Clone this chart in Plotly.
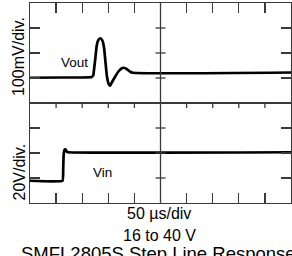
import plotly.graph_objects as go

# ---- data ----
# Vout transient (time in µs, output deviation in mV on a 100 mV/div scale)
vout_t = [0, 60, 118, 121, 123, 125.5, 128, 131, 135, 139, 142, 144.5, 147.5, 151, 153.5, 157, 163, 169, 176, 180, 185, 192, 197, 500]
vout_mv = [101, 102, 104, 110, 140, 185, 232, 252, 259, 248, 219, 165, 105, 75, 69, 83, 105, 125, 139, 141, 136, 125, 121, 122]

# Vin step (time in µs, volts on a 20 V/div scale)
vin_t = [0, 62.3, 63.6, 64.4, 66, 68, 70.3, 73, 500]
vin_v = [17.8, 17.8, 27, 38, 42.4, 43, 41.2, 40.6, 40.6]

x_range = [0, 500]          # 10 div x 50 µs
x_dtick = 50
top_range = [0, 400]        # 4 div x 100 mV
top_dtick = 100
bot_range = [0, 80]         # 4 div x 20 V
bot_dtick = 20

x_tick_vals = [50, 100, 150, 200, 300, 350, 400, 450]
top_tick_vals = [100, 200, 300]
bot_tick_vals = [20, 40, 60]
center_x = 250

FONT = "Liberation Sans, Arial, Helvetica, sans-serif"
LINE_C = "#3a3a3a"
LINE_W = 1.3

fig = go.Figure()
fig.add_trace(go.Scatter(x=vout_t, y=vout_mv, xaxis="x", yaxis="y", mode="lines",
                         line=dict(color="black", width=2.7, shape="spline", smoothing=0.5),
                         showlegend=False, hoverinfo="skip"))
fig.add_trace(go.Scatter(x=vin_t, y=vin_v, xaxis="x2", yaxis="y2", mode="lines",
                         line=dict(color="black", width=2.7, shape="spline", smoothing=0.3),
                         showlegend=False, hoverinfo="skip"))

common = dict(showgrid=False, zeroline=False, showticklabels=False, showline=True,
              linecolor=LINE_C, linewidth=LINE_W, ticks="inside", ticklen=10,
              tickcolor=LINE_C, tickwidth=LINE_W)

fig.update_layout(
    width=292, height=256,
    margin=dict(l=30, r=1, t=3, b=53),
    paper_bgcolor="white", plot_bgcolor="white",
    xaxis=dict(domain=[0, 1], anchor="y", range=x_range, side="top", tick0=0, dtick=x_dtick,
               mirror=True, **common),
    yaxis=dict(domain=[0.5, 1], anchor="x", range=top_range, tick0=0, dtick=top_dtick,
               mirror="ticks", **common),
    xaxis2=dict(domain=[0, 1], anchor="y2", range=x_range, side="bottom", tick0=0, dtick=x_dtick,
                mirror=True, matches="x", **common),
    yaxis2=dict(domain=[0, 0.5], anchor="x2", range=bot_range, tick0=0, dtick=bot_dtick,
                mirror="ticks", **common),
    font=dict(family=FONT, color="black"),
)

shapes = []
# center vertical divider
shapes.append(dict(type="line", xref="x", yref="paper", x0=center_x, x1=center_x, y0=0, y1=1,
                   line=dict(color=LINE_C, width=LINE_W)))
# ticks on the center vertical line (both sides)
for yref, vals in (("y", top_tick_vals), ("y2", bot_tick_vals)):
    for v in vals:
        shapes.append(dict(type="line", xref="x", yref=yref, xsizemode="pixel", xanchor=center_x,
                           x0=-5, x1=5, y0=v, y1=v, line=dict(color=LINE_C, width=LINE_W)))
# ticks on the middle horizontal line (both sides)
for v in x_tick_vals:
    shapes.append(dict(type="line", xref="x", yref="y2", ysizemode="pixel", yanchor=bot_range[1],
                       x0=v, x1=v, y0=-5, y1=5, line=dict(color=LINE_C, width=LINE_W)))
fig.update_layout(shapes=shapes)

annotations = [
    dict(text="100mV/div.", xref="paper", yref="paper", x=-0.046, y=0.735, textangle=-90,
         showarrow=False, font=dict(size=16), xanchor="center", yanchor="middle"),
    dict(text="20V/div.", xref="paper", yref="paper", x=-0.044, y=0.155, textangle=-90,
         showarrow=False, font=dict(size=16), xanchor="center", yanchor="middle"),
    dict(text="Vout", xref="x", yref="y", x=86, y=162, showarrow=False,
         font=dict(size=13.5), xanchor="center", yanchor="middle"),
    dict(text="Vin", xref="x2", yref="y2", x=139, y=24.6, showarrow=False,
         font=dict(size=13.5), xanchor="center", yanchor="middle"),
    dict(text="50 µs/div", xref="paper", yref="paper", x=0.494, y=-0.05, showarrow=False,
         font=dict(size=16), xanchor="center", yanchor="middle"),
    dict(text="16 to 40 V", xref="paper", yref="paper", x=0.496, y=-0.163, showarrow=False,
         font=dict(size=16), xanchor="center", yanchor="middle"),
    dict(text="SMFL2805S Step Line Response", xref="paper", yref="paper", x=0.494, y=-0.252,
         showarrow=False, font=dict(size=18.5), xanchor="center", yanchor="middle"),
]
fig.update_layout(annotations=annotations)

fig.write_html("out.html", config={"displayModeBar": False, "staticPlot": True},
               post_script="document.body.style.margin='0';document.body.style.padding='0';")
